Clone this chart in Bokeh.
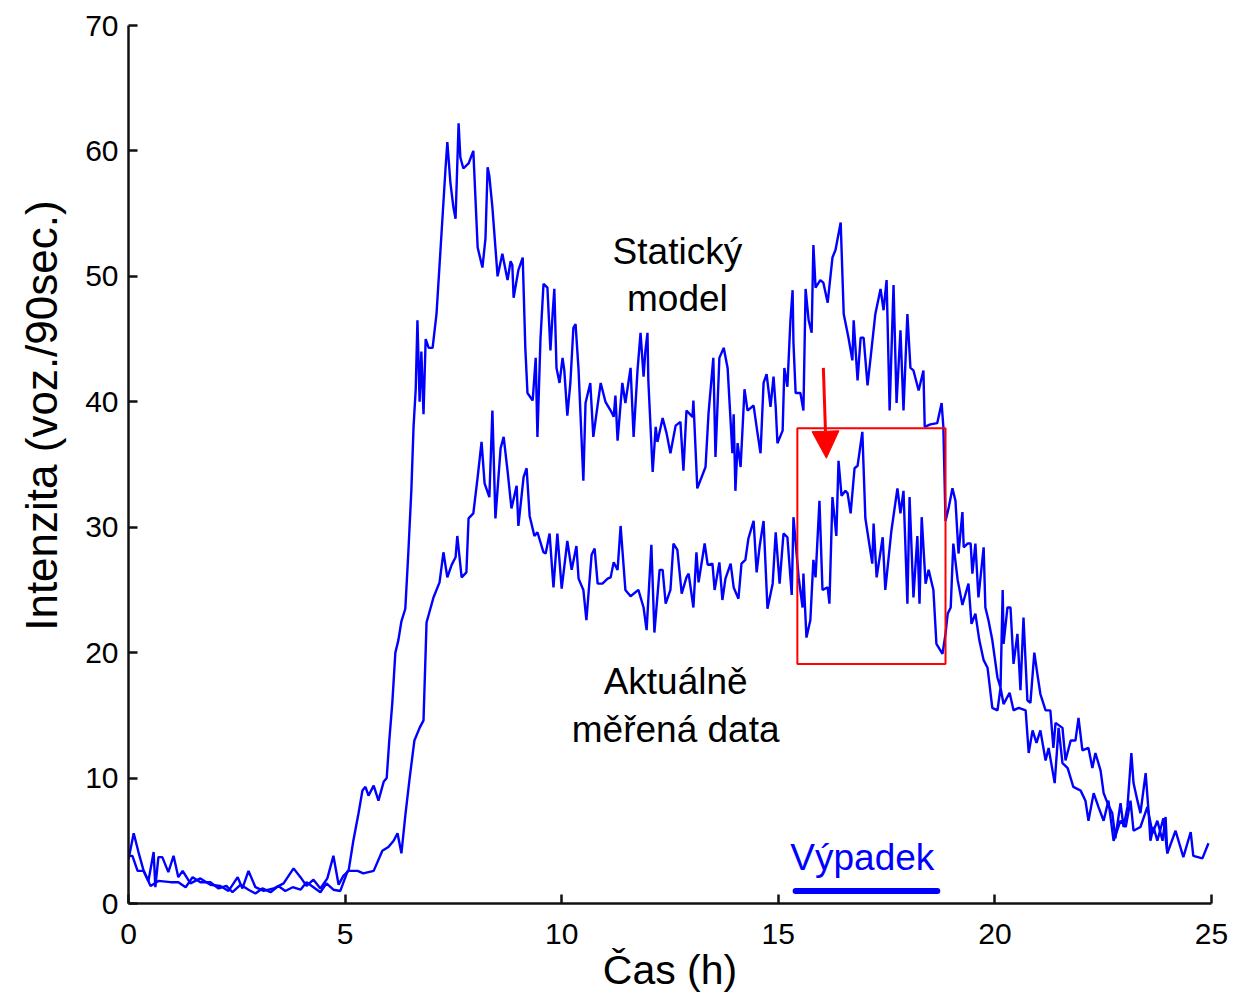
from bokeh.plotting import figure
from bokeh.models import Range1d, FixedTicker, Label, Arrow, NormalHead, BoxAnnotation
from bokeh.embed import file_html
from bokeh.resources import INLINE

# ---- data (hours, vehicles per 90 s) ----
static_h = [0.00, 0.12, 0.23, 0.35, 0.46, 0.58, 0.62, 0.69, 0.78, 0.92, 1.04, 1.15, 1.25, 1.43, 1.66,
            1.89, 2.12, 2.31, 2.52, 2.63, 2.77, 2.93, 3.12, 3.35, 3.58, 3.81, 3.97, 4.11, 4.27, 4.43,
            4.59, 4.73, 4.85, 4.96, 5.08, 5.19, 5.31, 5.40, 5.47, 5.54, 5.66, 5.77, 5.89, 5.96, 6.02,
            6.09, 6.16, 6.23, 6.30, 6.39, 6.46, 6.53, 6.58, 6.63, 6.67, 6.72, 6.76, 6.81, 6.86, 6.93,
            7.02, 7.11, 7.20, 7.32, 7.36, 7.43, 7.50, 7.55, 7.62, 7.66, 7.73, 7.85, 7.96, 8.06, 8.17,
            8.24, 8.29, 8.33, 8.40, 8.52, 8.63, 8.75, 8.82, 8.86, 8.89, 9.00, 9.10, 9.16, 9.21, 9.33,
            9.40, 9.44, 9.51, 9.58, 9.67, 9.74, 9.79, 9.83, 9.88, 9.95, 10.02, 10.06, 10.13, 10.20, 10.27,
            10.32, 10.39, 10.48, 10.50, 10.55, 10.66, 10.73, 10.80, 10.90, 11.01, 11.13, 11.20, 11.24, 11.29, 11.40,
            11.47, 11.59, 11.66, 11.75, 11.82, 11.89, 11.93, 11.98, 12.00, 12.10, 12.17, 12.21, 12.33, 12.42, 12.51,
            12.63, 12.74, 12.81, 12.88, 13.02, 13.04, 13.13, 13.32, 13.39, 13.50, 13.55, 13.64, 13.74, 13.83, 13.94,
            13.97, 14.01, 14.06, 14.13, 14.22, 14.29, 14.43, 14.52, 14.59, 14.66, 14.73, 14.82, 14.89, 14.94, 14.98,
            15.10, 15.14, 15.21, 15.28, 15.33, 15.35, 15.40, 15.51, 15.58, 15.63, 15.70, 15.77, 15.81, 15.86, 15.97,
            16.04, 16.14, 16.25, 16.32, 16.44, 16.51, 16.62, 16.71, 16.74, 16.83, 16.90, 16.97, 17.06, 17.13, 17.24,
            17.36, 17.43, 17.50, 17.57, 17.66, 17.73, 17.82, 17.89, 17.98, 18.05, 18.12, 18.24, 18.35, 18.38, 18.51,
            18.67, 18.77, 18.81, 18.86, 18.93, 19.02, 19.09, 19.16, 19.25, 19.28, 19.37, 19.44, 19.48, 19.55, 19.62,
            19.74, 19.78, 19.85, 19.94, 20.06, 20.13, 20.18, 20.20, 20.29, 20.36, 20.43, 20.52, 20.59, 20.66, 20.75,
            20.82, 20.91, 20.98, 21.05, 21.17, 21.28, 21.35, 21.40, 21.56, 21.63, 21.75, 21.86, 21.93, 22.02, 22.16,
            22.25, 22.32, 22.44, 22.51, 22.60, 22.71, 22.78, 22.90, 22.97, 23.06, 23.15, 23.20, 23.29, 23.36, 23.48,
            23.55, 23.59, 23.66, 23.75, 23.89, 23.98, 24.17, 24.35, 24.52, 24.58, 24.79, 24.93]
static_v = [3.5, 5.6, 4.1, 2.6, 1.8, 4.1, 1.3, 3.7, 3.7, 2.5, 3.8, 2.1, 2.6, 1.6, 2.0,
            1.5, 1.4, 1.0, 2.1, 1.2, 2.6, 1.3, 1.0, 1.2, 1.6, 2.8, 2.1, 1.4, 1.9, 1.2,
            2.0, 3.8, 1.5, 2.2, 2.6, 5.0, 7.2, 9.0, 9.3, 8.6, 9.4, 8.2, 9.7, 10.0, 13.0,
            16.0, 20.0, 21.0, 22.5, 23.5, 28.0, 33.0, 38.0, 41.0, 46.5, 40.0, 44.0, 39.0, 45.0, 44.3,
            44.3, 47.0, 52.0, 58.7, 60.7, 57.5, 55.5, 54.6, 62.2, 59.5, 58.6, 59.0, 60.0, 52.3, 50.7,
            53.0, 58.7, 58.0, 55.5, 50.0, 51.8, 49.7, 51.2, 50.9, 48.3, 50.5, 51.5, 44.3, 40.7, 40.1,
            43.5, 37.2, 45.0, 49.4, 49.1, 44.1, 47.0, 49.0, 42.7, 41.5, 43.5, 42.5, 38.9, 41.5, 45.9,
            46.2, 42.5, 35.3, 33.7, 39.9, 41.5, 37.2, 39.0, 41.5, 40.0, 39.3, 38.8, 40.5, 36.9, 41.5,
            39.9, 42.7, 37.2, 42.5, 45.5, 42.0, 44.0, 45.5, 41.7, 34.4, 38.0, 36.8, 38.7, 37.5, 35.9,
            38.1, 38.4, 34.5, 39.3, 38.8, 40.1, 33.1, 34.8, 39.1, 43.5, 35.6, 43.5, 44.3, 42.7, 35.9,
            39.0, 32.9, 36.7, 34.8, 41.0, 39.3, 39.7, 37.5, 35.9, 41.5, 42.2, 39.6, 42.0, 39.6, 36.7,
            37.7, 42.7, 41.2, 46.5, 48.9, 44.7, 40.7, 40.7, 39.3, 49.0, 46.5, 45.5, 52.5, 49.1, 49.7,
            49.5, 47.9, 51.5, 52.1, 54.3, 47.0, 45.1, 43.3, 46.5, 41.7, 45.1, 45.1, 41.3, 43.5, 47.0,
            49.0, 47.3, 49.7, 39.3, 49.3, 39.9, 45.7, 39.3, 47.0, 42.7, 42.5, 40.9, 42.5, 38.0, 38.2,
            38.3, 39.9, 38.0, 30.5, 31.5, 33.1, 32.1, 27.9, 31.2, 28.4, 28.7, 28.7, 26.3, 28.7, 24.4,
            28.4, 23.6, 22.6, 21.0, 18.0, 17.2, 25.0, 20.7, 23.6, 23.6, 19.1, 21.5, 17.0, 22.8, 16.2,
            16.0, 20.0, 18.3, 16.7, 15.4, 15.4, 12.4, 14.4, 14.0, 11.4, 13.0, 13.0, 14.8, 12.2, 12.4,
            10.8, 12.0, 10.6, 8.8, 8.0, 7.2, 5.2, 8.0, 6.1, 7.7, 12.0, 9.6, 8.2, 7.2, 10.4,
            7.2, 5.0, 6.1, 5.0, 6.8, 4.0, 5.8, 3.7, 5.7, 3.8, 3.6, 4.8]

measured_h = [0.00, 0.09, 0.21, 0.35, 0.51, 0.69, 0.97, 1.15, 1.32, 1.48, 1.66, 1.89, 2.08, 2.26, 2.40,
              2.59, 2.77, 2.93, 3.09, 3.28, 3.46, 3.62, 3.79, 3.97, 4.11, 4.27, 4.43, 4.57, 4.73, 4.89,
              5.06, 5.29, 5.42, 5.66, 5.86, 6.00, 6.12, 6.21, 6.30, 6.39, 6.49, 6.60, 6.72, 6.81, 6.88,
              7.04, 7.18, 7.27, 7.36, 7.46, 7.55, 7.59, 7.69, 7.80, 7.85, 7.96, 8.06, 8.15, 8.22, 8.33,
              8.40, 8.47, 8.59, 8.66, 8.75, 8.84, 8.96, 9.00, 9.12, 9.19, 9.26, 9.37, 9.44, 9.58, 9.63,
              9.72, 9.81, 9.90, 10.00, 10.13, 10.23, 10.34, 10.39, 10.50, 10.57, 10.69, 10.76, 10.83, 10.94, 11.06,
              11.13, 11.20, 11.29, 11.36, 11.47, 11.59, 11.77, 11.89, 11.96, 12.07, 12.14, 12.26, 12.33, 12.40, 12.51,
              12.58, 12.67, 12.77, 12.88, 12.93, 13.04, 13.11, 13.16, 13.30, 13.37, 13.48, 13.53, 13.64, 13.71, 13.78,
              13.90, 13.97, 14.08, 14.15, 14.24, 14.31, 14.43, 14.50, 14.57, 14.66, 14.75, 14.87, 14.94, 15.03, 15.12,
              15.21, 15.31, 15.35, 15.47, 15.56, 15.58, 15.65, 15.74, 15.81, 15.86, 15.95, 16.02, 16.14, 16.18, 16.25,
              16.34, 16.39, 16.46, 16.55, 16.60, 16.67, 16.76, 16.83, 16.94, 17.01, 17.17, 17.20, 17.27, 17.41, 17.47,
              17.61, 17.75, 17.82, 17.89, 17.98, 18.03, 18.12, 18.21, 18.26, 18.31, 18.40, 18.47, 18.58, 18.65, 18.79,
              18.86, 18.91, 18.98, 19.04, 19.14, 19.25, 19.39, 19.46, 19.55, 19.64, 19.74, 19.83, 19.94, 20.06, 20.13,
              20.20, 20.34, 20.43, 20.55, 20.71, 20.78, 20.87, 20.96, 21.05, 21.17, 21.24, 21.38, 21.47, 21.56, 21.68,
              21.81, 21.98, 22.09, 22.16, 22.28, 22.39, 22.51, 22.62, 22.74, 22.90, 23.02, 23.13, 23.20, 23.36, 23.52,
              23.64, 23.75, 23.87, 23.94, 23.98]
measured_v = [3.8, 3.8, 2.6, 2.6, 1.4, 1.8, 1.7, 1.7, 1.3, 2.1, 1.7, 1.7, 1.2, 1.4, 0.9,
              1.5, 1.1, 0.8, 1.2, 0.9, 1.4, 1.0, 1.3, 1.1, 1.7, 1.3, 0.9, 1.6, 1.1, 1.0,
              2.6, 2.6, 2.4, 2.6, 4.2, 4.5, 5.0, 5.6, 4.0, 7.0, 10.0, 13.0, 14.0, 14.6, 22.4,
              24.4, 25.6, 28.0, 26.0, 27.0, 27.6, 29.3, 26.0, 26.4, 30.7, 31.1, 34.0, 36.8, 33.5, 32.4,
              39.3, 30.7, 36.3, 37.2, 34.5, 31.5, 33.3, 30.1, 34.0, 34.7, 30.9, 29.3, 29.6, 28.0, 27.9,
              29.5, 25.2, 29.5, 25.1, 28.9, 26.6, 28.5, 25.9, 25.0, 22.6, 27.8, 28.3, 25.5, 25.5, 25.9,
              26.0, 27.2, 26.6, 30.1, 25.0, 24.5, 25.0, 23.6, 21.8, 28.6, 21.6, 26.6, 26.6, 23.9, 25.0,
              28.7, 28.2, 24.7, 26.0, 26.3, 23.6, 28.0, 25.6, 28.7, 27.0, 27.1, 25.0, 27.2, 24.2, 25.9,
              27.1, 25.2, 24.3, 27.1, 27.4, 29.1, 30.5, 26.4, 28.5, 30.5, 23.5, 25.5, 29.6, 25.5, 29.5,
              29.2, 24.6, 30.8, 26.0, 23.6, 26.3, 21.2, 22.6, 27.4, 26.0, 32.1, 25.0, 25.2, 23.9, 32.4,
              29.3, 35.3, 32.5, 32.9, 32.7, 31.1, 34.7, 34.9, 37.6, 30.7, 27.1, 30.3, 26.0, 29.2, 25.0,
              29.7, 33.1, 31.1, 32.9, 23.9, 32.4, 24.4, 29.3, 23.9, 30.8, 25.5, 26.6, 25.0, 20.7, 19.9,
              21.5, 23.1, 23.6, 28.7, 25.8, 23.8, 25.5, 22.3, 23.1, 21.0, 19.4, 18.8, 15.6, 15.4, 17.2,
              15.9, 16.8, 15.4, 15.6, 15.4, 12.0, 13.8, 12.8, 13.8, 11.4, 12.4, 9.6, 14.0, 11.2, 10.8,
              9.3, 9.0, 8.2, 6.6, 8.8, 7.7, 6.6, 8.2, 5.0, 6.6, 6.1, 8.2, 5.8, 6.1, 7.7,
              5.6, 6.6, 5.0, 6.9, 4.0]

x_ticks = [0, 5, 10, 15, 20, 25]
y_ticks = [0, 10, 20, 30, 40, 50, 60, 70]

outage_start, outage_end = 15.40, 18.67
box_left, box_right, box_bottom, box_top = 15.44, 18.86, 19.1, 37.9
arrow_from = (16.04, 42.7)
arrow_to = (16.11, 35.5)

FONT = "Liberation Sans"

p = figure(width=1243, height=999, output_backend="svg", toolbar_location=None,
           x_range=Range1d(0, 25), y_range=Range1d(0, 70),
           min_border_left=128, min_border_right=32, min_border_top=25, min_border_bottom=96)
p.outline_line_color = None
p.xgrid.visible = False
p.ygrid.visible = False
p.background_fill_color = "white"
p.border_fill_color = "white"

for ax in (p.xaxis[0], p.yaxis[0]):
    ax.axis_line_width = 2.5
    ax.axis_line_color = "#111111"
    ax.major_tick_line_width = 2.5
    ax.major_tick_line_color = "#111111"
    ax.major_tick_in = 9
    ax.major_tick_out = 0
    ax.minor_tick_in = 0
    ax.minor_tick_out = 0
    ax.major_label_text_font = FONT
    ax.major_label_text_font_size = "30px"
    ax.major_label_text_color = "black"
    ax.axis_label_text_font = FONT
    ax.axis_label_text_font_style = "normal"
    ax.axis_label_text_color = "black"

p.xaxis.ticker = FixedTicker(ticks=x_ticks)
p.yaxis.ticker = FixedTicker(ticks=y_ticks)
p.xaxis.major_label_standoff = 20
p.yaxis.major_label_standoff = 10

p.xaxis.axis_label = "Čas (h)"
p.xaxis.axis_label_text_font_size = "41px"
p.xaxis.axis_label_standoff = 0
p.yaxis.axis_label = "\u00a0" * 8 + "Intenzita (voz./90sec.)"
p.yaxis.axis_label_text_font_size = "44px"
p.yaxis.axis_label_standoff = 16

p.line(static_h, static_v, line_color="#0000FF", line_width=2.4)
p.line(measured_h, measured_v, line_color="#0000FF", line_width=2.4)

# outage bar
p.line([outage_start, outage_end], [1.0, 1.0], line_color="#0000FF", line_width=6, line_cap="round")

# red box and arrow
p.add_layout(BoxAnnotation(left=box_left, right=box_right, bottom=box_bottom, top=box_top,
                           fill_alpha=0, line_color="#FF0000", line_alpha=1.0, line_width=2))
p.add_layout(Arrow(x_start=arrow_from[0], y_start=arrow_from[1], x_end=arrow_to[0], y_end=arrow_to[1],
                   line_color="#FF0000", line_width=3,
                   end=NormalHead(size=27, fill_color="#FF0000", line_color="#FF0000", line_width=1)))

def lab(x, y, text, size, color="black"):
    p.add_layout(Label(x=x, y=y, text=text, text_font=FONT, text_font_size=size,
                       text_color=color, text_align="center", text_baseline="middle"))

lab(12.67, 52.0, "Statický", "37px")
lab(12.67, 48.2, "model", "37px")
lab(12.63, 17.7, "Aktuálně", "37px")
lab(12.63, 13.9, "měřená data", "37px")
lab(16.94, 3.7, "Výpadek", "37px", color="#0000FF")

open("out.html", "w").write(file_html(p, INLINE))
